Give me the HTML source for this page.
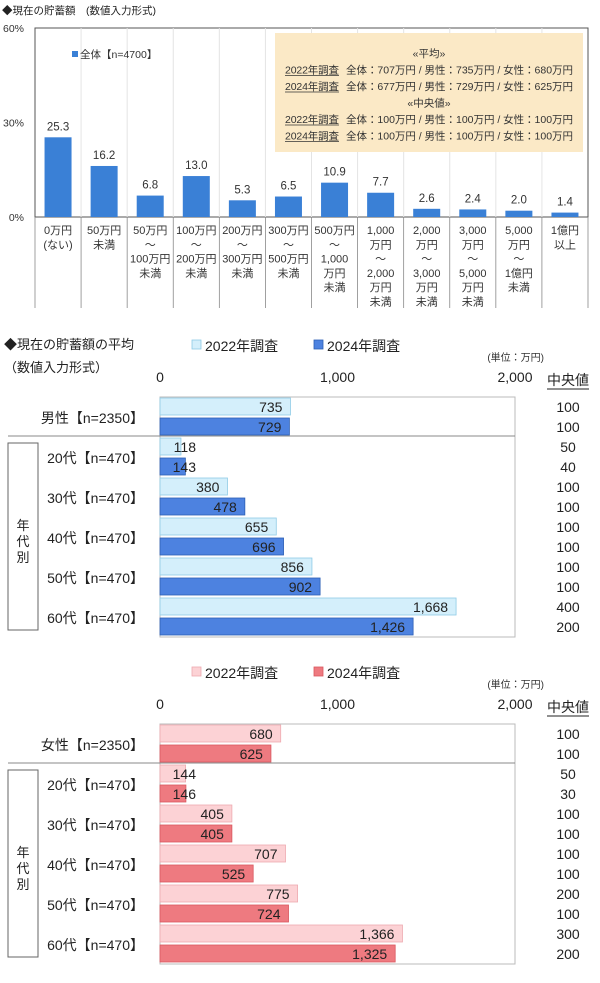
<!DOCTYPE html>
<html><head><meta charset="utf-8">
<style>
body{margin:0;background:#fff;width:600px;height:983px;overflow:hidden}
svg{display:block;font-family:"Liberation Sans","Noto Sans CJK JP",sans-serif}
</style></head>
<body>
<svg id="c" width="600" height="983" viewBox="0 0 600 983"></svg>
<script>
const topCats=[["0万円","(ない)"],["50万円","未満"],["50万円","～","100万円","未満"],["100万円","～","200万円","未満"],["200万円","～","300万円","未満"],["300万円","～","500万円","未満"],["500万円","～","1,000","万円","未満"],["1,000","万円","～","2,000","万円","未満"],["2,000","万円","～","3,000","万円","未満"],["3,000","万円","～","5,000","万円","未満"],["5,000","万円","～","1億円","未満"],["1億円","以上"]];
const topValues=[25.3,16.2,6.8,13.0,5.3,6.5,10.9,7.7,2.6,2.4,2.0,1.4];
const topTicks=[0,30,60];
const rowLabels=["男性【n=2350】","20代【n=470】","30代【n=470】","40代【n=470】","50代【n=470】","60代【n=470】"];
const femaleRowLabels=["女性【n=2350】","20代【n=470】","30代【n=470】","40代【n=470】","50代【n=470】","60代【n=470】"];
const male2022=[735,118,380,655,856,1668];
const male2024=[729,143,478,696,902,1426];
const maleMedian2022=[100,50,100,100,100,400];
const maleMedian2024=[100,40,100,100,100,200];
const female2022=[680,144,405,707,775,1366];
const female2024=[625,146,405,525,724,1325];
const femaleMedian2022=[100,50,100,100,200,300];
const femaleMedian2024=[100,30,100,100,100,200];
const hTicks=[0,1000,2000];

const svg=document.getElementById('c');
const NS='http://www.w3.org/2000/svg';
function el(tag,attrs,parent){const e=document.createElementNS(NS,tag);for(const k in attrs)e.setAttribute(k,attrs[k]);(parent||svg).appendChild(e);return e;}
function txt(s,attrs,parent){const e=el('text',attrs,parent);e.textContent=s;return e;}
const fmt=v=>v.toLocaleString('en-US');

const g1=el('g',{});


const t1=txt('◆現在の貯蓄額　(数値入力形式)',{x:2,y:14,'font-size':10.5,fill:'#222'},g1);


const L=35,R=588,T=28,B=217;
const yS=v=>B-(v/60)*(B-T);
const pitch=(R-L)/topValues.length;
el('rect',{x:L,y:T,width:R-L,height:B-T,fill:'none',stroke:'#555','stroke-width':1},g1);
topTicks.forEach(t=>{
  const tl=txt(t+'%',{x:24,y:yS(t)+4,'font-size':10.5,'text-anchor':'end',fill:'#333'},g1);
  
  
});
for(let i=1;i<topValues.length;i++){
  el('line',{x1:L+pitch*i,y1:T,x2:L+pitch*i,y2:B,stroke:'#e4e4e4','stroke-width':1},g1);
}
for(let i=0;i<=topValues.length;i++){
  el('line',{x1:L+pitch*i,y1:B,x2:L+pitch*i,y2:308,stroke:'#888','stroke-width':0.8},g1);
}
topValues.forEach((v,i)=>{
  const cx=L+pitch*(i+0.5);
  const b=el('rect',{x:cx-13.5,y:yS(v),width:27,height:B-yS(v),fill:'#3a80d6'},g1);
  
  
  const vl=txt(v.toFixed(1),{x:cx,y:yS(v)-7,'font-size':11.5,'text-anchor':'middle',fill:'#333'},g1);
  
  
  topCats[i].forEach((s,j)=>{
    const c=txt(s,{x:cx,y:234+j*14.3,'font-size':11,'text-anchor':'middle',fill:'#333'},g1);
    
    
  });
});
const lg=el('g',{},g1);


el('rect',{x:72,y:51,width:6,height:6,fill:'#3a80d6'},lg);
txt('全体【n=4700】',{x:80,y:58,'font-size':10.5,fill:'#333'},lg);
const box=el('g',{},g1);


el('rect',{x:275,y:33,width:308,height:119,fill:'#fbe9c6'},box);
const lines=[["","«平均»"],["2022年調査","全体：707万円 / 男性：735万円 / 女性：680万円"],["2024年調査","全体：677万円 / 男性：729万円 / 女性：625万円"],["","«中央値»"],["2022年調査","全体：100万円 / 男性：100万円 / 女性：100万円"],["2024年調査","全体：100万円 / 男性：100万円 / 女性：100万円"]];
lines.forEach((ln,k)=>{
  const y=57+k*16.5;
  if(ln[0]===""){txt(ln[1],{x:429,y:y,'font-size':10.5,'text-anchor':'middle',fill:'#333'},box);}
  else{
    txt(ln[0],{x:285,y:y,'font-size':10.5,fill:'#333',textLength:54},box);
    el('line',{x1:285,y1:y+2,x2:339,y2:y+2,stroke:'#333','stroke-width':0.7},box);
    txt(ln[1],{x:573,y:y,'font-size':10.5,'text-anchor':'end',fill:'#333',textLength:227},box);
  }
});

function hChart(oy,name,labels,d22,d24,m22,m24,c22,s22,c24,s24,title){
  const g=el('g',{});
  
  
  const x0=160,x1=515,top=397+oy,bot=637+oy;
  const xS=v=>x0+(v/2000)*(x1-x0);
  if(title){
    const t=txt('◆現在の貯蓄額の平均',{x:4,y:349+oy,'font-size':13,fill:'#222'},g);
    
    
    txt('（数値入力形式）',{x:4,y:372+oy,'font-size':13,fill:'#222'},g);
  }
  [[c22,s22,'2022年調査',192],[c24,s24,'2024年調査',314]].forEach(([c,s,l,x])=>{
    const lgg=el('g',{},g);
    
    
    el('rect',{x:x,y:340+oy,width:9,height:9,fill:c,stroke:s,'stroke-width':0.8},lgg);
    txt(l,{x:x+13,y:351+oy,'font-size':14,fill:'#222'},lgg);
  });
  txt('(単位：万円)',{x:544,y:361+oy,'font-size':10,'text-anchor':'end',fill:'#333'},g);
  const md=txt('中央値',{x:568,y:385+oy,'font-size':14,'text-anchor':'middle',fill:'#222'},g);
  
  
  el('line',{x1:547,y1:389+oy,x2:589,y2:389+oy,stroke:'#222','stroke-width':1},g);
  hTicks.forEach(t=>{
    const tl=txt(fmt(t),{x:xS(t),y:382+oy,'font-size':14,'text-anchor':'middle',fill:'#222'},g);
    
    
  });
  el('rect',{x:x0,y:top,width:x1-x0,height:bot-top,fill:'none',stroke:'#bbb','stroke-width':1},g);
  el('line',{x1:8,y1:top+39,x2:x1,y2:top+39,stroke:'#888','stroke-width':1},g);
  el('rect',{x:8,y:443+oy,width:30,height:187,fill:'none',stroke:'#666','stroke-width':1},g);
  ['年','代','別'].forEach((c,k)=>txt(c,{x:23,y:530+oy+k*16,'font-size':13,'text-anchor':'middle',fill:'#222'},g));
  labels.forEach((lab,i)=>{
    const gy=top+1+i*40;
    const ll=txt(lab,{x:144,y:gy+25,'font-size':14,'text-anchor':'end',fill:'#222'},g);
    
    
    [[d22[i],c22,s22,m22[i]],[d24[i],c24,s24,m24[i]]].forEach(([v,c,s,m],k)=>{
      const y=gy+k*20;
      const b=el('rect',{x:x0,y:y,width:xS(v)-x0,height:17,fill:c,stroke:s,'stroke-width':0.8},g);
      
      
      const vl=txt(fmt(v),{x:Math.max(xS(v)-8,x0+36),y:y+14,'font-size':14,'text-anchor':'end',fill:'#222'},g);
      
      
      const ml=txt(String(m),{x:568,y:y+14,'font-size':14,'text-anchor':'middle',fill:'#222'},g);
      
      
    });
  });
}
hChart(0,'male-average-chart',rowLabels,male2022,male2024,maleMedian2022,maleMedian2024,'#d4effb','#8ecbe6','#4d82e0','#2c5fb5',true);
hChart(327,'female-average-chart',femaleRowLabels,female2022,female2024,femaleMedian2022,femaleMedian2024,'#fcd2d5','#eeaab0','#ee7a80','#d9585f',false);
</script>
</body></html>
